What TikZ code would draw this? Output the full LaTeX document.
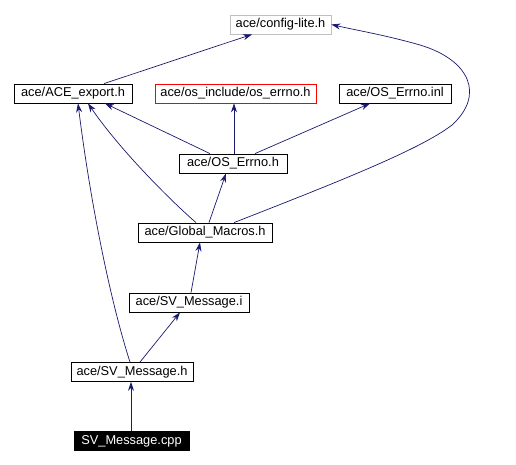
\documentclass[tikz,border=0pt]{standalone}
\usepackage{fontspec}
\setmainfont{Liberation Sans}
\usetikzlibrary{arrows.meta}
\definecolor{edge}{HTML}{191970}
\definecolor{grayb}{HTML}{BFBFBF}
\begin{document}
\begin{tikzpicture}[x=1pt,y=-1pt,
  box/.style={draw=black,fill=white,line width=0.8pt,font=\fontsize{12.8}{14}\selectfont,inner sep=0pt,minimum height=19pt},
  dep/.style={draw=edge,line width=0.7pt,-{Stealth[length=9pt,width=6pt]}}]
\useasboundingbox (0,0) rectangle (516,465);
\fill[white] (0,0) rectangle (516,465);
\node[box,draw=grayb,minimum width=101pt] (cfg) at (280.5,24.5) {ace/config-lite.h};
\node[box,minimum width=118pt] (ace) at (73,93.5) {ace/ACE\_export.h};
\node[box,draw=red,minimum width=161pt] (ose) at (235.5,93.5) {ace/os\_include/os\_errno.h};
\node[box,minimum width=112pt] (inl) at (395,93.5) {ace/OS\_Errno.inl};
\node[box,minimum width=108pt] (oserr) at (233,163.5) {ace/OS\_Errno.h};
\node[box,minimum width=134pt] (gm) at (205,232.5) {ace/Global\_Macros.h};
\node[box,minimum width=120pt] (svi) at (189,302.5) {ace/SV\_Message.i};
\node[box,minimum width=122pt] (svh) at (132,372) {ace/SV\_Message.h};
\node[box,fill=black,text=white,minimum width=115pt] (cpp) at (131.5,441) {SV\_Message.cpp};
\draw[dep] (ace.north -| 104,0) -- (cfg.south -| 252,0);
\draw[dep] (gm.north -| 234,0) .. controls (330,185) and (420,150) .. (452,125)
  .. controls (485,95) and (470,60) .. (420,45) .. controls (385,35) and (355,30) .. (cfg.east);
\draw[dep] (oserr.north -| 210,0) -- (ace.south -| 105,0);
\draw[dep] (oserr.north -| 234,0) -- (ose.south -| 234,0);
\draw[dep] (oserr.north -| 255,0) -- (inl.south -| 370,0);
\draw[dep] (gm.north -| 196,0) .. controls (170,200) and (120,150) .. (ace.south -| 88,0);
\draw[dep] (gm.north -| 209,0) -- (oserr.south -| 226,0);
\draw[dep] (svi.north -| 191,0) -- (gm.south -| 200,0);
\draw[dep] (svh.north -| 140,0) -- (svi.south -| 180,0);
\draw[dep] (svh.north -| 130,0) .. controls (110,300) and (90,200) .. (ace.south -| 78,0);
\draw[dep] (cpp.north -| 131,0) -- (svh.south -| 131,0);
\end{tikzpicture}
\end{document}
